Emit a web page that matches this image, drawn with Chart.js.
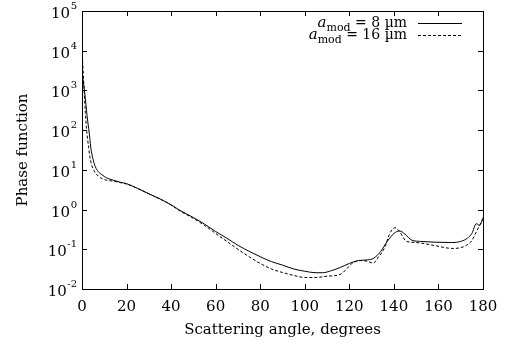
<!DOCTYPE html>
<html>
<head>
<meta charset="utf-8">
<script src="https://cdn.jsdelivr.net/npm/chart.js@4.4.1/dist/chart.umd.min.js"></script>
<style>
html,body{margin:0;padding:0;background:#fff;}
#wrap{width:511px;height:349px;position:relative;}
</style>
</head>
<body>
<div id="wrap"><canvas id="c"></canvas></div>
<script>
// ---- data ----
const angles8 = [0,0.5,1,1.5,2,2.5,3,3.5,4,5,6,7.3,9,11,14,17,20,25,30,35,40,44,50,55,60,65,70,75,80,85,90,95,100,105,108,112,116,120,124,128,131,134,137,140,142.5,145,148,152,158,166,170,173,175,177,178.5,180];
const phase8  = [2500,1800,1100,630,320,180,110,63,35,18,12,9,7.5,6.3,5.5,4.9,4.5,3.4,2.5,1.85,1.32,0.95,0.63,0.43,0.28,0.19,0.126,0.089,0.065,0.049,0.040,0.032,0.028,0.0257,0.0257,0.029,0.035,0.044,0.052,0.054,0.060,0.087,0.158,0.25,0.29,0.24,0.17,0.158,0.151,0.148,0.158,0.19,0.25,0.44,0.40,0.63];
const angles16 = [0,0.5,1,1.5,2,2.5,3,3.5,4.3,5.5,7.3,9,11,14,17,20,25,30,35,40,44,50,55,60,65,70,75,80,85,90,95,100,105,110,116,119,121,125,128,130.7,133,136,138,140.5,142.5,145.7,150,157.6,166.5,170,172.6,175,177,179.3,180];
const phase16  = [10000,3200,890,280,112,60,36,22,13.5,9.3,7.0,6.0,5.5,5.2,4.8,4.4,3.4,2.5,1.85,1.3,0.92,0.60,0.40,0.25,0.158,0.100,0.065,0.044,0.032,0.026,0.022,0.0195,0.0195,0.021,0.0234,0.033,0.043,0.052,0.050,0.045,0.063,0.115,0.24,0.35,0.28,0.158,0.148,0.126,0.105,0.110,0.126,0.166,0.275,0.49,0.56];
const xTicks = [0,20,40,60,80,100,120,140,160,180];
const yTickExps = [-2,-1,0,1,2,3,4,5];
const seriesLabels = [["a","mod"," = 8 µm"],["a","mod"," = 16 µm"]];
const xTitle = "Scattering angle, degrees";
const yTitle = "Phase function";

const FONT = "'DejaVu Serif', serif";

function pts(xs, ys){ return xs.map((x,i)=>({x:x,y:ys[i]})); }

const framePlugin = {
  id:'frame',
  afterDraw(chart){
    const ctx = chart.ctx, a = chart.chartArea;
    const xs = chart.scales.x, ys = chart.scales.y;
    ctx.save();
    ctx.strokeStyle = '#000';
    ctx.lineWidth = 1;
    ctx.strokeRect(Math.round(a.left)+0.5, Math.round(a.top)+0.5, Math.round(a.right-a.left), Math.round(a.bottom-a.top));
    const tl = 5;
    ctx.beginPath();
    xs.ticks.forEach(t=>{
      const px = Math.round(xs.getPixelForValue(t.value))+0.5;
      ctx.moveTo(px, a.bottom); ctx.lineTo(px, a.bottom-tl);
      ctx.moveTo(px, a.top); ctx.lineTo(px, a.top+tl);
    });
    ys.ticks.forEach(t=>{
      const py = Math.round(ys.getPixelForValue(t.value))+0.5;
      ctx.moveTo(a.left, py); ctx.lineTo(a.left+tl, py);
      ctx.moveTo(a.right, py); ctx.lineTo(a.right-tl, py);
    });
    ctx.stroke();
    // y tick labels with superscript exponents
    ctx.fillStyle = '#000';
    ctx.textBaseline = 'alphabetic';
    yTickExps.forEach(e=>{
      const py = ys.getPixelForValue(Math.pow(10,e));
      const exp = String(e);
      ctx.font = '10px ' + FONT;
      const we = ctx.measureText(exp).width;
      const rightX = a.left - 5;
      ctx.textAlign = 'right';
      ctx.fillText(exp, rightX, py - 2);
      ctx.font = '15px ' + FONT;
      ctx.fillText('10', rightX - we - 0.5, py + 7);
    });
    // legend
    const rightText = 407;
    const rows = [23, 35];
    chart.data.datasets.forEach((ds,i)=>{
      const y = rows[i];
      const parts = seriesLabels[i];
      ctx.font = '14px ' + FONT;
      const w3 = ctx.measureText(parts[2]).width;
      ctx.font = '11px ' + FONT;
      const w2 = ctx.measureText(parts[1]).width;
      ctx.font = 'italic 15px ' + FONT;
      const w1 = ctx.measureText(parts[0]).width;
      let x = rightText - w3 - w2 - w1;
      ctx.textAlign = 'left';
      ctx.fillText(parts[0], x, y+4); x += w1;
      ctx.font = '11px ' + FONT;
      ctx.fillText(parts[1], x, y+8); x += w2;
      ctx.font = '14px ' + FONT;
      ctx.fillText(parts[2], x, y+4);
      ctx.beginPath();
      ctx.setLineDash(ds.borderDash || []);
      ctx.strokeStyle = ds.borderColor;
      ctx.lineWidth = ds.borderWidth;
      ctx.moveTo(418, y+0.5); ctx.lineTo(462, y+0.5);
      ctx.stroke();
      ctx.setLineDash([]);
    });
    ctx.restore();
  }
};

new Chart(document.getElementById('c'), {
  type:'line',
  data:{
    datasets:[
      {label:'a_mod = 8 µm', data:pts(angles8, phase8), borderColor:'#000', borderWidth:1, pointRadius:0, fill:false, cubicInterpolationMode:'monotone'},
      {label:'a_mod = 16 µm', data:pts(angles16, phase16), borderColor:'#000', borderWidth:1, borderDash:[3,2], pointRadius:0, fill:false, cubicInterpolationMode:'monotone'}
    ]
  },
  options:{
    responsive:true, maintainAspectRatio:false, animation:false,
    layout:{padding:{top:11,right:28,left:0,bottom:0}},
    plugins:{legend:{display:false}, tooltip:{enabled:false}},
    scales:{
      x:{type:'linear', min:0, max:180,
        grid:{display:false, drawTicks:false}, border:{display:false},
        afterBuildTicks(s){ s.ticks = xTicks.map(v=>({value:v})); },
        afterFit(s){ s.height = 60; },
        ticks:{color:'#000', font:{family:FONT, size:15}, padding:9, maxRotation:0, autoSkip:false},
        title:{display:true, text:xTitle, color:'#000', font:{family:FONT, size:15}, padding:{top:0,bottom:10}}
      },
      y:{type:'logarithmic', min:0.01, max:1e5,
        grid:{display:false, drawTicks:false}, border:{display:false},
        afterBuildTicks(s){ s.ticks = yTickExps.map(e=>({value:Math.pow(10,e)})); },
        afterFit(s){ s.width = 82; },
        ticks:{display:false},
        title:{display:true, text:yTitle, color:'#000', font:{family:FONT, size:15}, padding:{top:14,bottom:0}}
      }
    }
  },
  plugins:[framePlugin]
});
</script>
</body>
</html>
